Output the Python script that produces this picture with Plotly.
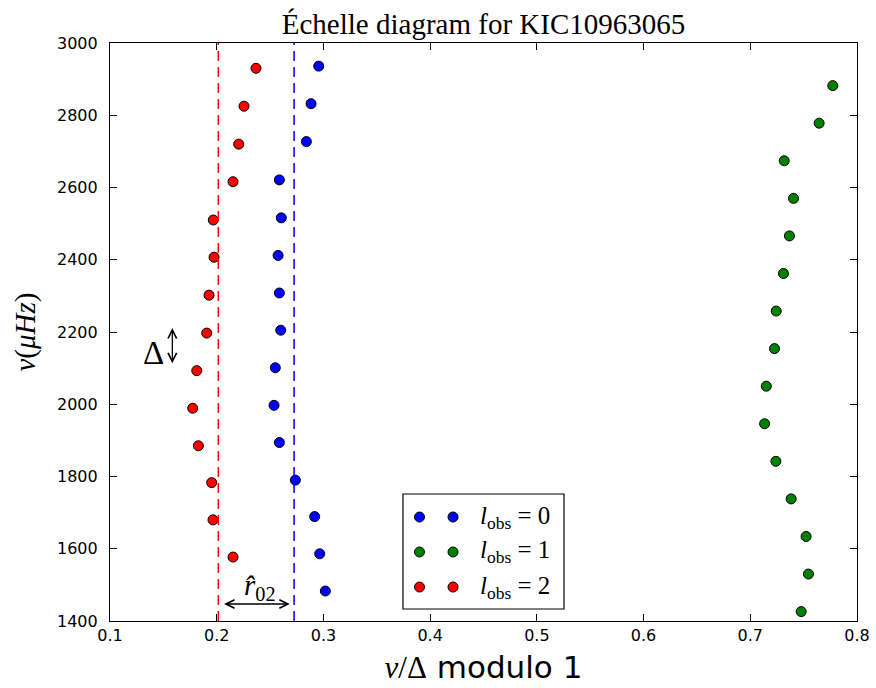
import plotly.graph_objects as go

# ---- data ----
l0_x = [0.2956, 0.2884, 0.2840, 0.2587, 0.2605, 0.2575, 0.2587, 0.2600,
        0.2549, 0.2537, 0.2587, 0.2737, 0.2918, 0.2965, 0.3018]
l0_nu = [2936, 2832, 2727, 2621, 2516, 2412, 2308, 2205,
         2101, 1997, 1894, 1790, 1689, 1586, 1483]

l1_x = [0.7773, 0.7645, 0.7318, 0.7405, 0.7367, 0.7311, 0.7243, 0.7227,
        0.7150, 0.7134, 0.7240, 0.7383, 0.7523, 0.7545, 0.7477]
l1_nu = [2882, 2778, 2674, 2570, 2466, 2362, 2258, 2154,
         2050, 1946, 1842, 1738, 1634, 1530, 1426]

l2_x = [0.2368, 0.2256, 0.2206, 0.2153, 0.1968, 0.1975, 0.1928, 0.1906,
        0.1813, 0.1775, 0.1828, 0.1953, 0.1965, 0.2153]
l2_nu = [2930, 2825, 2720, 2616, 2510, 2407, 2302, 2197,
         2093, 1989, 1885, 1783, 1680, 1577]

l0_mean = 0.2725   # blue dashed line
l2_mean = 0.2015   # red dashed line
delta_nu = 102     # length of the Delta arrow (muHz)

x_ticks = [0.1, 0.2, 0.3, 0.4, 0.5, 0.6, 0.7, 0.8]
y_ticks = [1400, 1600, 1800, 2000, 2200, 2400, 2600, 2800, 3000]

series = [
    ("0", l0_x, l0_nu, "#0000ff"),
    ("1", l1_x, l1_nu, "#008000"),
    ("2", l2_x, l2_nu, "#ff0000"),
]

SERIF = "Liberation Serif"
SANS = "DejaVu Sans"

fig = go.Figure()
for name, xs, ys, col in series:
    fig.add_trace(go.Scatter(
        x=xs, y=ys, mode="markers", name=f"l_obs = {name}",
        marker=dict(color=col, size=10, line=dict(color="black", width=1)),
        showlegend=False, cliponaxis=False,
    ))

# dashed reference lines
for xv, col in [(l2_mean, "#ff0000"), (l0_mean, "#0000ff")]:
    fig.add_shape(type="line", xref="x", yref="paper", x0=xv, x1=xv, y0=0, y1=1,
                  line=dict(color=col, width=1.5, dash="10px,6px"), layer="above")

# manual matplotlib-like legend (two markers per entry)
lx0, lx1, ly0, ly1 = 0.3922, 0.6078, 0.0208, 0.2197
fig.add_shape(type="rect", xref="paper", yref="paper", x0=lx0, x1=lx1, y0=ly0, y1=ly1,
              line=dict(color="black", width=1.2), fillcolor="white", layer="above")
rows = [0.1799, 0.1194, 0.0588]
for (name, xs, ys, col), ry in zip(series, rows):
    for mx in (0.4143, 0.4592):
        fig.add_shape(type="circle", xref="paper", yref="paper",
                      xsizemode="pixel", ysizemode="pixel",
                      xanchor=mx, yanchor=ry, x0=-5, x1=5, y0=-5, y1=5,
                      fillcolor=col, line=dict(color="black", width=1), layer="above")
    fig.add_annotation(xref="paper", yref="paper", x=0.492, y=ry,
                       xanchor="left", yanchor="middle", showarrow=False,
                       text=f"<i>l</i><sub>obs</sub> = {name}",
                       font=dict(family=SERIF, size=25, color="black"))

# Delta arrow
ax_x = 0.1584
top_nu = 2211
fig.add_annotation(x=ax_x, y=top_nu, ax=ax_x, ay=top_nu - delta_nu, xref="x", yref="y",
                   axref="x", ayref="y", text="", showarrow=True, arrowhead=5,
                   arrowside="end+start", arrowsize=1.3, arrowwidth=1.3, arrowcolor="black",
                   standoff=0, startstandoff=0)
fig.add_annotation(x=0.1405, y=2142, xref="x", yref="y", text="Δ", showarrow=False,
                   font=dict(family=SERIF, size=33, color="black"))

# r02 arrow
fig.add_annotation(x=l0_mean - 0.004, y=1447, ax=l2_mean + 0.004, ay=1447, xref="x", yref="y",
                   axref="x", ayref="y", text="", showarrow=True, arrowhead=5,
                   arrowside="end+start", arrowsize=1.3, arrowwidth=1.3, arrowcolor="black",
                   standoff=0, startstandoff=0)
fig.add_annotation(x=0.2405, y=1493, xref="x", yref="y", text="<i>r̂</i><sub>02</sub>",
                   showarrow=False, font=dict(family=SERIF, size=29, color="black"))

axis_common = dict(
    showline=True, linecolor="black", linewidth=1.2, mirror="ticks",
    ticks="inside", ticklen=7, tickwidth=1, tickcolor="black",
    showgrid=False, zeroline=False, automargin=False,
    tickfont=dict(family=SANS, size=16, color="black"),
)

fig.update_layout(
    width=876, height=688,
    margin=dict(l=110, r=19, t=43, b=67),
    paper_bgcolor="white", plot_bgcolor="white",
    title=dict(text="Échelle diagram for KIC10963065", x=483.5 / 876, xanchor="center",
               y=1 - 24 / 688, yanchor="middle", yref="container",
               font=dict(family=SERIF, size=29, color="black")),
    xaxis=dict(range=[0.1, 0.8], tickvals=x_ticks, ticktext=[f"{v:.1f}" for v in x_ticks],
               title=dict(text='<i>ν</i>/Δ<span style="font-family:DejaVu Sans"> modulo 1</span>',
                          font=dict(family=SERIF, size=31, color="black"), standoff=12),
               **axis_common),
    yaxis=dict(range=[1400, 3000], tickvals=y_ticks, ticktext=[str(v) for v in y_ticks],
               title=dict(text="<i>ν</i>(<i>μHz</i>)",
                          font=dict(family=SERIF, size=29, color="black"), standoff=12),
               ticklabelstandoff=8,
               **axis_common),
)

fig.write_html("out.html")
